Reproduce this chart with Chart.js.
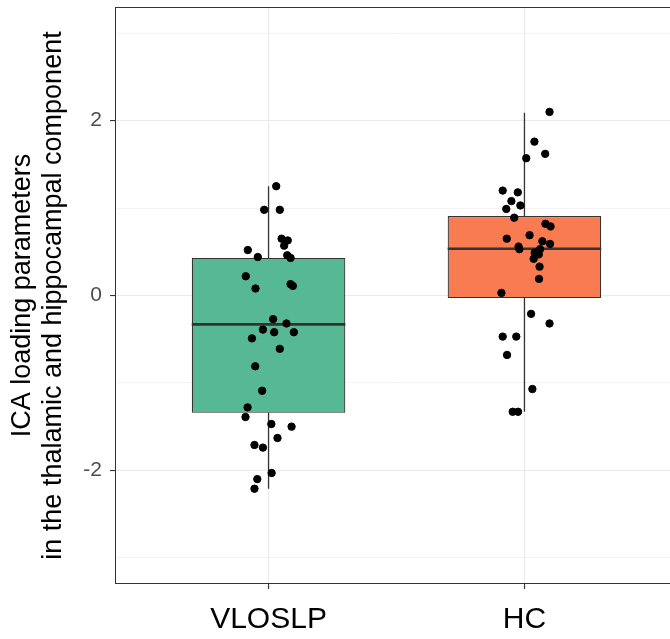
<!DOCTYPE html>
<html>
<head>
<meta charset="utf-8">
<script src="https://cdn.jsdelivr.net/npm/chart.js@4.4.1/dist/chart.umd.min.js"></script>
<style>
  html, body { margin: 0; padding: 0; background: #fff; overflow: hidden; }
  #wrap { width: 686px; height: 639px; }
</style>
</head>
<body>
<div id="wrap"><canvas id="boxChart"></canvas></div>
<script>
// groups and colours
const groups = ["VLOSLP", "HC"];
const groupColors = ["#56B894", "#F87B51"];

// box stats: [lower whisker, q1, median, q3, upper whisker]
const vloslpBox = [-2.21, -1.34, -0.33, 0.43, 1.25];
const hcBox = [-1.33, -0.03, 0.535, 0.91, 2.09];

// jittered points: value and horizontal jitter (in category units)
const vloslpValues = [1.25, 0.98, 0.98, 0.65, 0.63, 0.57, 0.52, 0.44, 0.46, 0.43, 0.22, 0.08, 0.13, 0.11,
  -0.27, -0.32, -0.39, -0.42, -0.42, -0.49, -0.61, -0.81, -1.09, -1.28, -1.39, -1.47, -1.50, -1.63,
  -1.71, -1.74, -2.03, -2.10, -2.21];
const vloslpJitter = [0.03, -0.017, 0.044, 0.051, 0.075, 0.061, -0.081, -0.042, 0.073, 0.086, -0.089, -0.051, 0.086, 0.095,
  0.018, 0.07, -0.022, 0.022, 0.099, -0.065, 0.044, -0.052, -0.025, -0.082, -0.09, 0.011, 0.09, 0.035,
  -0.055, -0.022, 0.012, -0.044, -0.055];

const hcValues = [2.10, 1.76, 1.62, 1.57, 1.20, 1.18, 1.08, 0.99, 1.03, 0.89, 0.82, 0.79, 0.65, 0.69, 0.62, 0.59,
  0.56, 0.53, 0.53, 0.50, 0.49, 0.47, 0.42, 0.33, 0.19, 0.03, -0.21, -0.32, -0.47, -0.47, -0.68, -1.07,
  -1.33, -1.33];
const hcJitter = [0.098, 0.039, 0.081, 0.007, -0.085, -0.026, -0.051, -0.071, -0.016, -0.04, 0.082, 0.102, -0.069, 0.02, 0.07, 0.1,
  -0.023, -0.02, 0.061, 0.052, 0.04, 0.056, 0.036, 0.059, 0.057, -0.09, 0.026, 0.098, -0.085, -0.032, -0.068, 0.031,
  -0.046, -0.025];

const yTicks = [-3, -2, -1, 0, 1, 2, 3];

const boxes = [vloslpBox, hcBox];
const allValues = [vloslpValues, hcValues];
const allJitter = [vloslpJitter, hcJitter];
const halfBox = 0.3;

const boxData = boxes.map((b, i) => ({ x: i + 1, y: [b[1], b[3]] }));

const medianData = [];
const whiskerData = [];
boxes.forEach((b, i) => {
  medianData.push({ x: i + 1 - halfBox, y: b[2] }, { x: i + 1 + halfBox, y: b[2] }, { x: i + 1, y: null });
  whiskerData.push({ x: i + 1, y: b[3] }, { x: i + 1, y: b[4] }, { x: i + 1, y: null });
  whiskerData.push({ x: i + 1, y: b[1] }, { x: i + 1, y: b[0] }, { x: i + 1, y: null });
});

const pointData = [];
allValues.forEach((vals, i) => {
  vals.forEach((v, j) => pointData.push({ x: i + 1 + allJitter[i][j], y: v }));
});

// panel border on all four sides
const panelBorder = {
  id: "panelBorder",
  afterDraw(chart) {
    const { ctx, chartArea: a } = chart;
    ctx.save();
    ctx.strokeStyle = "#333333";
    ctx.lineWidth = 1;
    ctx.strokeRect(a.left + 0.5, a.top + 0.5, a.right - a.left - 1, a.bottom - a.top - 1);
    ctx.restore();
  }
};

const config = {
  type: "bar",
  data: {
    datasets: [
      {
        type: "scatter",
        label: "points",
        data: pointData,
        backgroundColor: "#000000",
        borderColor: "#000000",
        pointRadius: 3.7,
        order: 0
      },
      {
        type: "line",
        label: "median",
        data: medianData,
        borderColor: "#333333",
        borderWidth: 2.6,
        pointRadius: 0,
        spanGaps: false,
        order: 1
      },
      {
        type: "bar",
        label: "box",
        data: boxData,
        backgroundColor: groupColors,
        borderColor: "#333333",
        borderWidth: 1.2,
        borderSkipped: false,
        barPercentage: 0.6,
        categoryPercentage: 1,
        order: 2
      },
      {
        type: "line",
        label: "whisker",
        data: whiskerData,
        borderColor: "#333333",
        borderWidth: 1.3,
        pointRadius: 0,
        spanGaps: false,
        order: 3
      }
    ]
  },
  options: {
    responsive: true,
    maintainAspectRatio: false,
    animation: false,
    layout: { padding: { top: 7, right: 8, left: 0, bottom: 0 } },
    plugins: {
      legend: { display: false },
      tooltip: { enabled: false }
    },
    scales: {
      x: {
        type: "linear",
        offset: false,
        min: 0.4,
        max: 2.6,
        afterBuildTicks: (s) => { s.ticks = groups.map((g, i) => ({ value: i + 1 })); },
        afterFit: (s) => { s.height = 55; s.paddingLeft = 0; s.paddingRight = 0; },
        ticks: {
          callback: (v) => groups[Math.round(v) - 1],
          color: "#000000",
          font: { family: "Liberation Sans, Arial, sans-serif", size: 30 },
          padding: 13,
          maxRotation: 0
        },
        grid: { offset: false, color: "#EBEBEB", lineWidth: 1.1, tickColor: "#333333", tickLength: 5 },
        border: { display: false }
      },
      y: {
        type: "linear",
        min: -3.3,
        max: 3.3,
        afterBuildTicks: (s) => { s.ticks = yTicks.map(v => ({ value: v })); },
        afterFit: (s) => { s.width = 115; s.paddingTop = 0; s.paddingBottom = 0; },
        ticks: {
          callback: (v) => (v % 2 === 0 ? String(v) : ""),
          color: "#4D4D4D",
          font: { family: "Liberation Sans, Arial, sans-serif", size: 21 },
          padding: 8
        },
        grid: {
          color: "#EBEBEB",
          lineWidth: (c) => (c.tick && c.tick.value % 2 === 0 ? 1.1 : 0.6),
          tickColor: (c) => (c.tick && c.tick.value % 2 === 0 ? "#333333" : "rgba(0,0,0,0)"),
          tickLength: 5
        },
        border: { display: false },
        title: {
          display: true,
          text: ["ICA loading parameters", "in the thalamic and hippocampal component"],
          color: "#000000",
          font: { family: "Liberation Sans, Arial, sans-serif", size: 27, lineHeight: 1.15 },
          padding: { top: 7, bottom: 0 }
        }
      }
    }
  },
  plugins: [panelBorder]
};

const boxChart = new Chart(document.getElementById("boxChart"), config);
</script>
</body>
</html>
